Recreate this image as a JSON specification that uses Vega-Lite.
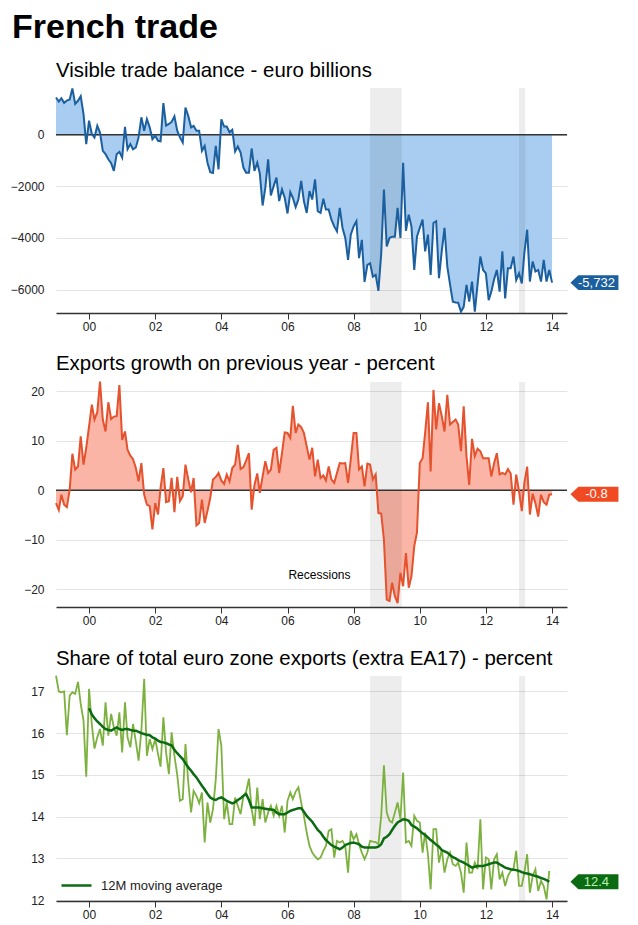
{
  "$schema": "https://vega.github.io/schema/vega-lite/v6.json",
  "title": {"text": "French trade", "fontSize": 34, "fontWeight": "bold", "anchor": "start", "frame": "group", "dx": -44, "offset": 16},
  "padding": {"left": 10, "top": 11, "right": 5, "bottom": 5},
  "datasets": {
    "one": [{}],
    "rec": [
      {"from": "2008-07-01", "to": "2009-06-15"},
      {"from": "2013-01-01", "to": "2013-03-10"}
    ],
    "m": [
      {"d":"1999-01","b":1450,"e":-2.6,"s":17.38},
      {"d":"1999-02","b":1290,"e":-4.0,"s":17.0},
      {"d":"1999-03","b":1420,"e":-0.9,"s":16.98},
      {"d":"1999-04","b":1240,"e":-2.9,"s":17.0},
      {"d":"1999-05","b":1330,"e":-3.4,"s":15.95},
      {"d":"1999-06","b":1370,"e":0.1,"s":16.9},
      {"d":"1999-07","b":1800,"e":7.4,"s":16.98},
      {"d":"1999-08","b":1200,"e":4.2,"s":16.94},
      {"d":"1999-09","b":1320,"e":4.8,"s":17.23},
      {"d":"1999-10","b":1500,"e":10.9,"s":16.7},
      {"d":"1999-11","b":800,"e":5.2,"s":16.3},
      {"d":"1999-12","b":-360,"e":8.6,"s":14.96},
      {"d":"2000-01","b":550,"e":12.9,"s":17.06,"m":16.6},
      {"d":"2000-02","b":30,"e":17.3,"s":16.2,"m":16.45},
      {"d":"2000-03","b":-100,"e":14.3,"s":15.63,"m":16.36},
      {"d":"2000-04","b":350,"e":15.8,"s":15.9,"m":16.28},
      {"d":"2000-05","b":90,"e":22.0,"s":16.1,"m":16.22},
      {"d":"2000-06","b":-620,"e":14.3,"s":15.7,"m":16.15},
      {"d":"2000-07","b":-750,"e":11.9,"s":16.74,"m":16.1},
      {"d":"2000-08","b":-950,"e":17.8,"s":15.94,"m":16.08},
      {"d":"2000-09","b":-1100,"e":14.4,"s":16.46,"m":16.06},
      {"d":"2000-10","b":-1400,"e":14.9,"s":16.14,"m":16.1},
      {"d":"2000-11","b":-750,"e":15.0,"s":15.94,"m":16.14},
      {"d":"2000-12","b":-660,"e":21.3,"s":16.5,"m":16.1},
      {"d":"2001-01","b":-880,"e":10.2,"s":15.54,"m":16.08},
      {"d":"2001-02","b":310,"e":11.9,"s":16.74,"m":16.1},
      {"d":"2001-03","b":-560,"e":8.2,"s":15.9,"m":16.1},
      {"d":"2001-04","b":-360,"e":7.0,"s":15.66,"m":16.08},
      {"d":"2001-05","b":-560,"e":6.3,"s":16.22,"m":16.06},
      {"d":"2001-06","b":-490,"e":4.5,"s":15.8,"m":16.06},
      {"d":"2001-07","b":-100,"e":1.8,"s":15.34,"m":16.03},
      {"d":"2001-08","b":680,"e":5.5,"s":16.06,"m":16.0},
      {"d":"2001-09","b":160,"e":-0.9,"s":17.3,"m":15.98},
      {"d":"2001-10","b":610,"e":-2.9,"s":15.46,"m":15.96},
      {"d":"2001-11","b":290,"e":-3.2,"s":15.86,"m":15.95},
      {"d":"2001-12","b":-170,"e":-7.9,"s":15.62,"m":15.9},
      {"d":"2002-01","b":-40,"e":-2.6,"s":15.86,"m":15.87},
      {"d":"2002-02","b":-230,"e":-4.9,"s":15.5,"m":15.82},
      {"d":"2002-03","b":-250,"e":0.5,"s":15.2,"m":15.79},
      {"d":"2002-04","b":1230,"e":4.5,"s":16.38,"m":15.78},
      {"d":"2002-05","b":360,"e":-2.4,"s":15.54,"m":15.76},
      {"d":"2002-06","b":420,"e":-2.2,"s":15.02,"m":15.73},
      {"d":"2002-07","b":500,"e":2.5,"s":16.02,"m":15.71},
      {"d":"2002-08","b":720,"e":-4.4,"s":15.46,"m":15.6},
      {"d":"2002-09","b":160,"e":2.7,"s":15.0,"m":15.52},
      {"d":"2002-10","b":-100,"e":-2.2,"s":14.38,"m":15.45},
      {"d":"2002-11","b":-300,"e":-1.2,"s":14.42,"m":15.38},
      {"d":"2002-12","b":1060,"e":5.2,"s":15.74,"m":15.28},
      {"d":"2003-01","b":730,"e":2.2,"s":14.82,"m":15.18},
      {"d":"2003-02","b":290,"e":-0.4,"s":14.1,"m":15.1},
      {"d":"2003-03","b":350,"e":2.5,"s":14.62,"m":15.02},
      {"d":"2003-04","b":160,"e":-7.1,"s":14.5,"m":14.94},
      {"d":"2003-05","b":160,"e":-6.6,"s":14.32,"m":14.84},
      {"d":"2003-06","b":-620,"e":-1.9,"s":14.58,"m":14.74},
      {"d":"2003-07","b":-430,"e":-6.6,"s":13.38,"m":14.65},
      {"d":"2003-08","b":-1080,"e":-4.2,"s":14.34,"m":14.55},
      {"d":"2003-09","b":-1450,"e":-1.5,"s":13.86,"m":14.46},
      {"d":"2003-10","b":-1480,"e":2.2,"s":14.18,"m":14.42},
      {"d":"2003-11","b":-430,"e":2.7,"s":14.9,"m":14.4},
      {"d":"2003-12","b":-1340,"e":3.5,"s":16.1,"m":14.44},
      {"d":"2004-01","b":600,"e":2.0,"s":15.7,"m":14.46},
      {"d":"2004-02","b":320,"e":1.3,"s":13.94,"m":14.42},
      {"d":"2004-03","b":320,"e":3.2,"s":14.34,"m":14.38},
      {"d":"2004-04","b":100,"e":1.8,"s":13.82,"m":14.35},
      {"d":"2004-05","b":195,"e":4.5,"s":13.82,"m":14.32},
      {"d":"2004-06","b":-650,"e":5.2,"s":14.46,"m":14.35},
      {"d":"2004-07","b":-455,"e":9.2,"s":14.26,"m":14.4},
      {"d":"2004-08","b":-690,"e":4.3,"s":14.06,"m":14.44},
      {"d":"2004-09","b":-1270,"e":4.7,"s":14.5,"m":14.5},
      {"d":"2004-10","b":-1470,"e":6.0,"s":14.6,"m":14.54},
      {"d":"2004-11","b":-1470,"e":7.5,"s":14.91,"m":14.4},
      {"d":"2004-12","b":-530,"e":-3.9,"s":14.18,"m":14.22},
      {"d":"2005-01","b":-1400,"e":1.1,"s":13.78,"m":14.22},
      {"d":"2005-02","b":-1080,"e":3.4,"s":14.7,"m":14.22},
      {"d":"2005-03","b":-1500,"e":-0.5,"s":13.94,"m":14.22},
      {"d":"2005-04","b":-2740,"e":2.8,"s":14.42,"m":14.2},
      {"d":"2005-05","b":-2050,"e":5.9,"s":13.86,"m":14.19},
      {"d":"2005-06","b":-950,"e":3.5,"s":14.1,"m":14.18},
      {"d":"2005-07","b":-2350,"e":4.2,"s":14.26,"m":14.17},
      {"d":"2005-08","b":-1990,"e":8.2,"s":14.02,"m":14.16},
      {"d":"2005-09","b":-1660,"e":8.6,"s":14.26,"m":14.1},
      {"d":"2005-10","b":-2570,"e":3.5,"s":14.02,"m":14.06},
      {"d":"2005-11","b":-2120,"e":7.5,"s":14.26,"m":14.06},
      {"d":"2005-12","b":-2440,"e":11.7,"s":13.62,"m":14.06},
      {"d":"2006-01","b":-3050,"e":11.6,"s":14.38,"m":14.1},
      {"d":"2006-02","b":-2220,"e":10.6,"s":14.58,"m":14.14},
      {"d":"2006-03","b":-2440,"e":17.1,"s":14.42,"m":14.16},
      {"d":"2006-04","b":-2800,"e":11.6,"s":14.6,"m":14.18},
      {"d":"2006-05","b":-2510,"e":13.3,"s":14.7,"m":14.2},
      {"d":"2006-06","b":-1790,"e":12.8,"s":14.34,"m":14.2},
      {"d":"2006-07","b":-2570,"e":11.6,"s":14.02,"m":14.12},
      {"d":"2006-08","b":-3030,"e":8.9,"s":13.62,"m":14.02},
      {"d":"2006-09","b":-2180,"e":6.2,"s":13.3,"m":13.95},
      {"d":"2006-10","b":-2510,"e":8.6,"s":13.14,"m":13.88},
      {"d":"2006-11","b":-1730,"e":2.8,"s":13.05,"m":13.78},
      {"d":"2006-12","b":-2960,"e":6.2,"s":12.98,"m":13.68},
      {"d":"2007-01","b":-3030,"e":2.5,"s":13.02,"m":13.62},
      {"d":"2007-02","b":-2480,"e":3.0,"s":13.18,"m":13.52},
      {"d":"2007-03","b":-2900,"e":2.0,"s":13.3,"m":13.44},
      {"d":"2007-04","b":-2900,"e":4.8,"s":13.66,"m":13.38},
      {"d":"2007-05","b":-3290,"e":2.2,"s":13.7,"m":13.32},
      {"d":"2007-06","b":-3550,"e":1.5,"s":13.02,"m":13.28},
      {"d":"2007-07","b":-3740,"e":3.5,"s":13.42,"m":13.25},
      {"d":"2007-08","b":-2830,"e":5.5,"s":13.38,"m":13.22},
      {"d":"2007-09","b":-3610,"e":5.4,"s":13.42,"m":13.26},
      {"d":"2007-10","b":-4000,"e":5.5,"s":13.3,"m":13.32},
      {"d":"2007-11","b":-4850,"e":1.5,"s":12.66,"m":13.35},
      {"d":"2007-12","b":-3870,"e":6.3,"s":13.66,"m":13.37},
      {"d":"2008-01","b":-3550,"e":11.6,"s":13.46,"m":13.38},
      {"d":"2008-02","b":-3350,"e":11.6,"s":13.58,"m":13.36},
      {"d":"2008-03","b":-4780,"e":4.2,"s":13.34,"m":13.34},
      {"d":"2008-04","b":-4070,"e":4.8,"s":13.14,"m":13.28},
      {"d":"2008-05","b":-5700,"e":0.8,"s":12.98,"m":13.26},
      {"d":"2008-06","b":-5040,"e":5.4,"s":13.14,"m":13.26},
      {"d":"2008-07","b":-4980,"e":5.2,"s":13.42,"m":13.26},
      {"d":"2008-08","b":-5500,"e":2.2,"s":13.4,"m":13.26},
      {"d":"2008-09","b":-5430,"e":3.2,"s":13.39,"m":13.26},
      {"d":"2008-10","b":-6050,"e":-4.6,"s":13.34,"m":13.28},
      {"d":"2008-11","b":-4600,"e":-4.7,"s":14.02,"m":13.34},
      {"d":"2008-12","b":-2120,"e":-10.0,"s":15.23,"m":13.48},
      {"d":"2009-01","b":-4330,"e":-22.1,"s":14.1,"m":13.52},
      {"d":"2009-02","b":-4000,"e":-22.4,"s":13.9,"m":13.58},
      {"d":"2009-03","b":-3950,"e":-18.7,"s":13.86,"m":13.68},
      {"d":"2009-04","b":-3950,"e":-21.4,"s":14.1,"m":13.78},
      {"d":"2009-05","b":-2830,"e":-22.8,"s":14.34,"m":13.86},
      {"d":"2009-06","b":-4000,"e":-16.7,"s":13.94,"m":13.9},
      {"d":"2009-07","b":-1080,"e":-19.4,"s":15.06,"m":13.94},
      {"d":"2009-08","b":-3720,"e":-12.7,"s":13.38,"m":13.93},
      {"d":"2009-09","b":-3100,"e":-19.7,"s":13.42,"m":13.9},
      {"d":"2009-10","b":-3550,"e":-17.4,"s":13.3,"m":13.8},
      {"d":"2009-11","b":-5240,"e":-11.3,"s":14.02,"m":13.76},
      {"d":"2009-12","b":-3940,"e":-8.5,"s":13.9,"m":13.72},
      {"d":"2010-01","b":-3610,"e":5.5,"s":13.86,"m":13.66},
      {"d":"2010-02","b":-3290,"e":6.5,"s":13.14,"m":13.6},
      {"d":"2010-03","b":-4520,"e":11.6,"s":13.62,"m":13.56},
      {"d":"2010-04","b":-3870,"e":17.8,"s":13.1,"m":13.5},
      {"d":"2010-05","b":-5430,"e":3.8,"s":12.26,"m":13.44},
      {"d":"2010-06","b":-3420,"e":20.3,"s":13.7,"m":13.39},
      {"d":"2010-07","b":-3350,"e":12.3,"s":13.7,"m":13.33},
      {"d":"2010-08","b":-5560,"e":17.6,"s":12.9,"m":13.28},
      {"d":"2010-09","b":-4500,"e":15.0,"s":13.22,"m":13.2},
      {"d":"2010-10","b":-3610,"e":11.9,"s":12.66,"m":13.17},
      {"d":"2010-11","b":-5110,"e":19.3,"s":12.98,"m":13.14},
      {"d":"2010-12","b":-5800,"e":13.3,"s":13.14,"m":13.08},
      {"d":"2011-01","b":-6470,"e":13.8,"s":12.86,"m":13.03},
      {"d":"2011-02","b":-6500,"e":14.3,"s":12.82,"m":13.0},
      {"d":"2011-03","b":-6510,"e":13.3,"s":12.9,"m":12.96},
      {"d":"2011-04","b":-6860,"e":7.9,"s":12.66,"m":12.93},
      {"d":"2011-05","b":-6670,"e":17.0,"s":12.18,"m":12.9},
      {"d":"2011-06","b":-5820,"e":6.9,"s":13.38,"m":12.86},
      {"d":"2011-07","b":-6470,"e":1.1,"s":12.66,"m":12.82},
      {"d":"2011-08","b":-5690,"e":10.4,"s":12.66,"m":12.78},
      {"d":"2011-09","b":-6860,"e":6.9,"s":12.9,"m":12.8},
      {"d":"2011-10","b":-5800,"e":8.4,"s":12.74,"m":12.82},
      {"d":"2011-11","b":-4720,"e":7.9,"s":13.94,"m":12.82},
      {"d":"2011-12","b":-5240,"e":6.5,"s":12.26,"m":12.82},
      {"d":"2012-01","b":-5370,"e":6.5,"s":13.02,"m":12.84},
      {"d":"2012-02","b":-6410,"e":6.5,"s":12.98,"m":12.86},
      {"d":"2012-03","b":-6080,"e":2.8,"s":12.26,"m":12.88},
      {"d":"2012-04","b":-5600,"e":5.5,"s":12.98,"m":12.9},
      {"d":"2012-05","b":-5240,"e":7.5,"s":13.1,"m":12.9},
      {"d":"2012-06","b":-6080,"e":3.2,"s":12.5,"m":12.86},
      {"d":"2012-07","b":-4520,"e":3.5,"s":12.66,"m":12.82},
      {"d":"2012-08","b":-6340,"e":3.2,"s":12.34,"m":12.78},
      {"d":"2012-09","b":-5170,"e":4.3,"s":12.58,"m":12.76},
      {"d":"2012-10","b":-5170,"e":3.4,"s":12.7,"m":12.74},
      {"d":"2012-11","b":-4720,"e":-2.9,"s":12.74,"m":12.73},
      {"d":"2012-12","b":-5630,"e":3.2,"s":13.18,"m":12.72},
      {"d":"2013-01","b":-5370,"e":-0.2,"s":12.34,"m":12.7},
      {"d":"2013-02","b":-5760,"e":-4.2,"s":12.34,"m":12.67},
      {"d":"2013-03","b":-4590,"e":1.5,"s":12.66,"m":12.65},
      {"d":"2013-04","b":-3680,"e":4.8,"s":13.1,"m":12.64},
      {"d":"2013-05","b":-5690,"e":-4.9,"s":12.18,"m":12.62},
      {"d":"2013-06","b":-4910,"e":-0.7,"s":12.58,"m":12.6},
      {"d":"2013-07","b":-5300,"e":-2.6,"s":12.74,"m":12.58},
      {"d":"2013-08","b":-5240,"e":-5.3,"s":12.22,"m":12.56},
      {"d":"2013-09","b":-5690,"e":-0.9,"s":12.46,"m":12.53},
      {"d":"2013-10","b":-4850,"e":-2.4,"s":12.34,"m":12.51},
      {"d":"2013-11","b":-5690,"e":-2.9,"s":12.02,"m":12.48},
      {"d":"2013-12","b":-5240,"e":-0.9,"s":12.7,"m":12.44},
      {"d":"2014-01","b":-5732,"e":-0.8}
    ]
  },
  "data": {"name": "m"},
  "resolve": {"legend": {"color": "independent"}, "scale": {"color": "independent"}},
  "vconcat": [
    {
      "title": "Visible trade balance - euro billions",
      "width": 511,
      "height": 225,
      "layer": [
        {
          "mark": {"type": "area", "color": "#a8cdf0"},
          "encoding": {
            "x": {"field": "d", "type": "temporal", "scale": {"type": "utc", "domain": [{"year": 1999, "month": 1, "date": 1, "utc": true}, {"year": 2014, "month": 6, "date": 15, "utc": true}]}, "axis": {"format": "%y", "tickCount": {"interval": "year", "step": 2}}},
            "y": {"field": "b", "type": "quantitative", "scale": {"domain": [-6909, 1816], "nice": false, "zero": false}, "axis": {"values": [-6000, -4000, -2000, 0], "format": "d"}},
            "y2": {"datum": 0}
          }
        },
        {
          "data": {"name": "rec"},
          "mark": {"type": "rect", "color": "#000", "opacity": 0.07},
          "encoding": {
            "x": {"field": "from", "type": "temporal", "scale": {"type": "utc"}},
            "x2": {"field": "to"}
          }
        },
        {
          "data": {"name": "one"},
          "mark": {"type": "rule", "color": "#333", "strokeWidth": 1.5},
          "encoding": {"y": {"datum": 0}}
        },
        {
          "mark": {"type": "line", "color": "#1b5f9f", "strokeWidth": 2},
          "encoding": {
            "x": {"field": "d", "type": "temporal", "scale": {"type": "utc"}},
            "y": {"field": "b", "type": "quantitative"}
          }
        },
        {
          "data": {"name": "one"},
          "mark": {"type": "point", "shape": "M-1,0L-0.67,-0.31L1,-0.31L1,0.31L-0.67,0.31Z", "size": 2304, "filled": true, "opacity": 1, "color": "#1b5f9f"},
          "encoding": {
            "x": {"datum": {"year": 2015, "month": 4, "date": 14, "utc": true}, "type": "temporal"},
            "y": {"datum": -5732}
          }
        },
        {
          "data": {"name": "one"},
          "mark": {"type": "text", "color": "#fff", "fontSize": 13, "dx": 2},
          "encoding": {
            "x": {"datum": {"year": 2015, "month": 4, "date": 14, "utc": true}, "type": "temporal"},
            "y": {"datum": -5732},
            "text": {"datum": "-5,732"}
          }
        }
      ]
    },
    {
      "title": "Exports growth on previous year - percent",
      "width": 511,
      "height": 225,
      "layer": [
        {
          "mark": {"type": "area", "color": "#fbb5a6"},
          "encoding": {
            "x": {"field": "d", "type": "temporal", "scale": {"type": "utc", "domain": [{"year": 1999, "month": 1, "date": 1, "utc": true}, {"year": 2014, "month": 6, "date": 15, "utc": true}]}, "axis": {"format": "%y", "tickCount": {"interval": "year", "step": 2}}},
            "y": {"field": "e", "type": "quantitative", "scale": {"domain": [-23.6, 21.9], "nice": false, "zero": false}, "axis": {"values": [-20, -10, 0, 10, 20]}},
            "y2": {"datum": 0}
          }
        },
        {
          "data": {"name": "rec"},
          "mark": {"type": "rect", "color": "#000", "opacity": 0.07},
          "encoding": {
            "x": {"field": "from", "type": "temporal", "scale": {"type": "utc"}},
            "x2": {"field": "to"}
          }
        },
        {
          "data": {"name": "one"},
          "mark": {"type": "rule", "color": "#333", "strokeWidth": 1.5},
          "encoding": {"y": {"datum": 0}}
        },
        {
          "mark": {"type": "line", "color": "#e4522e", "strokeWidth": 2},
          "encoding": {
            "x": {"field": "d", "type": "temporal", "scale": {"type": "utc"}},
            "y": {"field": "e", "type": "quantitative"}
          }
        },
        {
          "data": {"name": "one"},
          "mark": {"type": "text", "color": "#000", "fontSize": 12},
          "encoding": {
            "x": {"datum": {"year": 2006, "month": 12, "date": 20, "utc": true}, "type": "temporal"},
            "y": {"datum": -17.2},
            "text": {"datum": "Recessions"}
          }
        },
        {
          "data": {"name": "one"},
          "mark": {"type": "point", "shape": "M-1,0L-0.67,-0.31L1,-0.31L1,0.31L-0.67,0.31Z", "size": 2304, "filled": true, "opacity": 1, "color": "#f04a23"},
          "encoding": {
            "x": {"datum": {"year": 2015, "month": 4, "date": 14, "utc": true}, "type": "temporal"},
            "y": {"datum": -0.8}
          }
        },
        {
          "data": {"name": "one"},
          "mark": {"type": "text", "color": "#fff", "fontSize": 13, "dx": 2},
          "encoding": {
            "x": {"datum": {"year": 2015, "month": 4, "date": 14, "utc": true}, "type": "temporal"},
            "y": {"datum": -0.8},
            "text": {"datum": "-0.8"}
          }
        }
      ]
    },
    {
      "title": "Share of total euro zone exports (extra EA17) - percent",
      "width": 511,
      "height": 225,
      "layer": [
        {
          "data": {"name": "rec"},
          "mark": {"type": "rect", "color": "#000", "opacity": 0.07},
          "encoding": {
            "x": {"field": "from", "type": "temporal", "scale": {"type": "utc", "domain": [{"year": 1999, "month": 1, "date": 1, "utc": true}, {"year": 2014, "month": 6, "date": 15, "utc": true}]}, "axis": {"format": "%y", "tickCount": {"interval": "year", "step": 2}}},
            "x2": {"field": "to"}
          }
        },
        {
          "mark": {"type": "line", "color": "#7db13f", "strokeWidth": 1.8},
          "encoding": {
            "x": {"field": "d", "type": "temporal", "scale": {"type": "utc"}},
            "y": {"field": "s", "type": "quantitative", "scale": {"domain": [11.98, 17.37], "nice": false, "zero": false}, "axis": {"values": [12, 13, 14, 15, 16, 17]}}
          }
        },
        {
          "mark": {"type": "line", "strokeWidth": 2.5},
          "encoding": {
            "x": {"field": "d", "type": "temporal", "scale": {"type": "utc"}},
            "y": {"field": "m", "type": "quantitative"},
            "color": {
              "datum": "12M moving average",
              "type": "nominal",
              "scale": {"range": ["#0b6b13"]},
              "legend": {"orient": "none", "legendX": 4, "legendY": 193, "padding": 0, "title": null, "symbolType": "stroke", "symbolSize": 900, "symbolStrokeWidth": 2.5, "labelFontSize": 13, "labelColor": "#222", "labelOffset": 8}
            }
          }
        },
        {
          "data": {"name": "one"},
          "mark": {"type": "point", "shape": "M-1,0L-0.67,-0.31L1,-0.31L1,0.31L-0.67,0.31Z", "size": 2304, "filled": true, "opacity": 1, "color": "#0b6b13"},
          "encoding": {
            "x": {"datum": {"year": 2015, "month": 4, "date": 14, "utc": true}, "type": "temporal"},
            "y": {"datum": 12.44}
          }
        },
        {
          "data": {"name": "one"},
          "mark": {"type": "text", "color": "#b9f0b0", "fontSize": 13, "dx": 2},
          "encoding": {
            "x": {"datum": {"year": 2015, "month": 4, "date": 14, "utc": true}, "type": "temporal"},
            "y": {"datum": 12.44},
            "text": {"datum": "12.4"}
          }
        }
      ]
    }
  ],
  "config": {
    "font": "Liberation Sans",
    "view": {"stroke": null},
    "concat": {"spacing": 22},
    "title": {"anchor": "start", "frame": "group", "fontSize": 20.4, "fontWeight": "normal", "color": "#000", "offset": 3},
    "axisX": {"domainColor": "#333", "domainWidth": 1.5, "tickColor": "#333", "tickSize": 6, "labelFontSize": 12, "labelColor": "#222", "labelPadding": 2, "grid": false, "title": null},
    "axisY": {"domain": false, "ticks": false, "tickSize": 0, "labelFontSize": 12, "labelColor": "#222", "labelPadding": 12, "gridColor": "#e4e4e4", "title": null}
  }
}
